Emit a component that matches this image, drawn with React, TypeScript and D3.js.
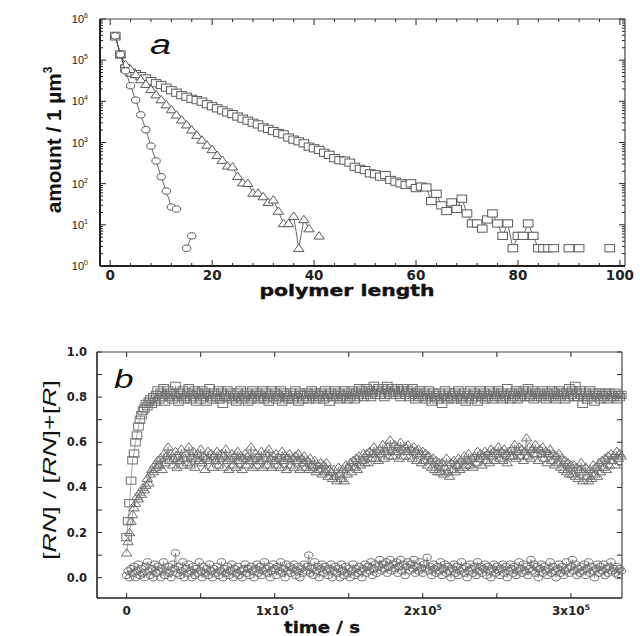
import React from 'react';
import * as d3 from 'd3';

const W = 640;
const H = 636;

// ---- panel a : amount vs polymer length (index + 1 = length, null = no polymer)
const LENGTH_TICKS = [0, 20, 40, 60, 80, 100];
const LENGTH_MINOR = d3.range(0, 101, 4);
const AMOUNT_TICKS = [1, 10, 100, 1e3, 1e4, 1e5, 1e6];

const CIRCLES_A = [3.9e5, 1.38e5, 5.5e4, 2.4e4, 1.07e4, 4700, 2050, 820, 355, 147, 66, 27, 24.3, null, 2.7, 5.4];

const TRIANGLES_A = [
  3.7e5, 1.38e5, 7.9e4, 6.0e4, 4.5e4, 3.4e4, 2.6e4, 1.95e4, 1.45e4, 1.1e4,
  8300, 6300, 4700, 3550, 2700, 2040, 1510, 1150, 870, 676,
  490, 372, 270, 257, 151, 105, 102, 59.4, 59.4, 48.6,
  35.1, 40.5, 21.6, 10.8, 10.8, 16.2, 2.7, 13.5, 8.1, null,
  5.4,
];

const SQUARES_A = [
  3.9e5, 1.38e5, 6.3e4, 5.0e4, 4.6e4, 4.1e4, 3.6e4, 3.1e4, 2.75e4, 2.5e4,
  2.15e4, 1.86e4, 1.62e4, 1.41e4, 1.29e4, 1.15e4, 1.07e4, 9800, 8500, 7600,
  6760, 6030, 5370, 4900, 4270, 3800, 3390, 3020, 2750, 2340,
  2140, 1900, 1700, 1580, 1320, 1170, 1070, 955, 794, 724,
  661, 562, 501, 417, 372, 363, 324, 257, 229, 214,
  178, 170, 148, 162, 123, 112, 102, 93, 102, 78,
  85, 81, 37.8, 56.7, 29.7, 21.6, 35.1, 24.3, 43.2, 18.9,
  10.8, 10.8, 8.1, 13.5, 18.9, 10.8, 5.4, 10.8, 2.7, 5.4,
  5.4, 10.8, 5.4, 2.7, 2.7, 2.7, 2.7, null, null, 2.7,
  null, 2.7, null, null, null, null, null, 2.7,
];

// ---- panel b : [RN]/([RN]+[R]) vs time, one sample every T_STEP seconds
const T_STEP = 1000;
const TIME_TICKS = [0, 1e5, 2e5, 3e5];
const TIME_MINOR = [0, 5e4, 1e5, 1.5e5, 2e5, 2.5e5, 3e5];
const RATIO_TICKS = [0, 0.2, 0.4, 0.6, 0.8, 1.0];

const SQUARES_B = [
  0.18, 0.25, 0.33, 0.43, 0.52, 0.55, 0.60, 0.63, 0.67, 0.70, 0.72, 0.74, 0.75, 0.77, 0.76, 0.78, 0.79, 0.77, 0.80, 0.78,
  0.81, 0.83, 0.79, 0.82, 0.80, 0.84, 0.78, 0.81, 0.83, 0.80,
  0.82, 0.79, 0.81, 0.85, 0.80, 0.78, 0.82, 0.81, 0.83, 0.79,
  0.80, 0.82, 0.84, 0.79, 0.81, 0.80, 0.83, 0.78, 0.82, 0.81,
  0.79, 0.83, 0.80, 0.82, 0.78, 0.81, 0.84, 0.80, 0.79, 0.82,
  0.81, 0.80, 0.83, 0.79, 0.82, 0.77, 0.80, 0.81, 0.83, 0.80,
  0.82, 0.79, 0.81, 0.80, 0.78, 0.82, 0.80, 0.83, 0.79, 0.81,
  0.80, 0.82, 0.78, 0.81, 0.79, 0.83, 0.80, 0.81, 0.82, 0.79,
  0.81, 0.80, 0.83, 0.79, 0.82, 0.80, 0.78, 0.81, 0.83, 0.80,
  0.82, 0.79, 0.81, 0.80, 0.83, 0.78, 0.82, 0.80, 0.81, 0.79,
  0.80, 0.82, 0.79, 0.81, 0.83, 0.80, 0.78, 0.82, 0.81, 0.79,
  0.81, 0.80, 0.82, 0.79, 0.81, 0.83, 0.80, 0.82, 0.79, 0.81,
  0.80, 0.82, 0.81, 0.79, 0.83, 0.80, 0.81, 0.78, 0.82, 0.80,
  0.81, 0.83, 0.80, 0.82, 0.79, 0.81, 0.80, 0.83, 0.81, 0.79,
  0.82, 0.80, 0.83, 0.81, 0.79, 0.82, 0.80, 0.84, 0.81, 0.83,
  0.80, 0.82, 0.84, 0.81, 0.83, 0.80, 0.82, 0.85, 0.81, 0.83,
  0.84, 0.81, 0.82, 0.84, 0.80, 0.83, 0.85, 0.82, 0.81, 0.84,
  0.82, 0.83, 0.81, 0.84, 0.82, 0.80, 0.83, 0.84, 0.81, 0.82,
  0.83, 0.80, 0.82, 0.84, 0.81, 0.79, 0.82, 0.80, 0.83, 0.81,
  0.80, 0.82, 0.79, 0.81, 0.83, 0.80, 0.78, 0.82, 0.80, 0.81,
  0.79, 0.82, 0.80, 0.77, 0.81, 0.83, 0.80, 0.79, 0.82, 0.80,
  0.81, 0.79, 0.82, 0.80, 0.83, 0.81, 0.79, 0.80, 0.82, 0.78,
  0.81, 0.80, 0.83, 0.79, 0.81, 0.82, 0.80, 0.78, 0.81, 0.83,
  0.80, 0.82, 0.79, 0.81, 0.80, 0.83, 0.81, 0.79, 0.82, 0.80,
  0.81, 0.83, 0.80, 0.82, 0.79, 0.81, 0.80, 0.84, 0.81, 0.79,
  0.82, 0.80, 0.81, 0.83, 0.79, 0.82, 0.80, 0.81, 0.83, 0.80,
  0.82, 0.84, 0.80, 0.81, 0.83, 0.79, 0.82, 0.80, 0.81, 0.82,
  0.80, 0.83, 0.81, 0.79, 0.82, 0.80, 0.81, 0.83, 0.80, 0.82,
  0.79, 0.81, 0.83, 0.80, 0.82, 0.81, 0.79, 0.82, 0.80, 0.84,
  0.81, 0.83, 0.80, 0.85, 0.82, 0.80, 0.83, 0.81, 0.77, 0.80,
  0.82, 0.79, 0.81, 0.83, 0.80, 0.82, 0.78, 0.81, 0.80, 0.82,
  0.79, 0.81, 0.80, 0.82, 0.81, 0.79, 0.82, 0.80, 0.81, 0.80,
  0.82, 0.79, 0.81, 0.80, 0.81,
];

const TRIANGLES_B = [
  0.11, 0.16, 0.20, 0.25, 0.28, 0.31, 0.33, 0.36, 0.35, 0.38, 0.37, 0.40, 0.39, 0.41, 0.44, 0.42, 0.46, 0.48, 0.47, 0.50,
  0.49, 0.52, 0.50, 0.53, 0.48, 0.55, 0.51, 0.54, 0.58, 0.52,
  0.55, 0.50, 0.53, 0.56, 0.49, 0.54, 0.52, 0.57, 0.50, 0.53,
  0.55, 0.51, 0.58, 0.50, 0.54, 0.56, 0.49, 0.53, 0.55, 0.52,
  0.57, 0.51, 0.54, 0.48, 0.53, 0.56, 0.52, 0.55, 0.49, 0.54,
  0.52, 0.56, 0.50, 0.53, 0.55, 0.49, 0.54, 0.57, 0.52, 0.48,
  0.53, 0.55, 0.50, 0.54, 0.49, 0.56, 0.52, 0.54, 0.48, 0.53,
  0.55, 0.50, 0.54, 0.52, 0.58, 0.49, 0.53, 0.55, 0.50, 0.54,
  0.52, 0.56, 0.49, 0.53, 0.55, 0.50, 0.57, 0.53, 0.49, 0.54,
  0.52, 0.55, 0.50, 0.53, 0.49, 0.56, 0.52, 0.54, 0.48, 0.53,
  0.55, 0.50, 0.53, 0.49, 0.54, 0.52, 0.55, 0.48, 0.53, 0.51,
  0.54, 0.49, 0.52, 0.48, 0.53, 0.50, 0.49, 0.52, 0.47, 0.50,
  0.48, 0.51, 0.46, 0.50, 0.47, 0.51, 0.45, 0.48, 0.47, 0.44,
  0.48, 0.45, 0.43, 0.49, 0.46, 0.44, 0.48, 0.43, 0.50, 0.46,
  0.49, 0.51, 0.47, 0.52, 0.49, 0.53, 0.48, 0.54, 0.50, 0.52,
  0.55, 0.51, 0.55, 0.51, 0.56, 0.53, 0.55, 0.58, 0.53, 0.56,
  0.52, 0.57, 0.55, 0.59, 0.53, 0.56, 0.58, 0.54, 0.61, 0.57,
  0.54, 0.59, 0.56, 0.58, 0.53, 0.60, 0.57, 0.54, 0.58, 0.56,
  0.59, 0.54, 0.57, 0.53, 0.58, 0.56, 0.52, 0.57, 0.55, 0.51,
  0.56, 0.52, 0.55, 0.50, 0.54, 0.52, 0.49, 0.53, 0.48, 0.52,
  0.47, 0.51, 0.47, 0.51, 0.46, 0.49, 0.53, 0.47, 0.45, 0.51,
  0.48, 0.52, 0.47, 0.50, 0.53, 0.48, 0.52, 0.49, 0.54, 0.50,
  0.52, 0.55, 0.50, 0.53, 0.49, 0.54, 0.51, 0.56, 0.53, 0.55,
  0.50, 0.54, 0.56, 0.52, 0.55, 0.51, 0.57, 0.54, 0.56, 0.52,
  0.55, 0.58, 0.53, 0.56, 0.52, 0.57, 0.55, 0.51, 0.56, 0.54,
  0.57, 0.54, 0.59, 0.53, 0.56, 0.58, 0.54, 0.57, 0.52, 0.56,
  0.62, 0.54, 0.58, 0.53, 0.57, 0.55, 0.59, 0.55, 0.52, 0.57,
  0.55, 0.58, 0.53, 0.56, 0.51, 0.55, 0.57, 0.52, 0.55, 0.50,
  0.54, 0.51, 0.55, 0.49, 0.53, 0.48, 0.52, 0.47, 0.51, 0.46,
  0.50, 0.46, 0.50, 0.45, 0.49, 0.44, 0.48, 0.51, 0.43, 0.47,
  0.49, 0.45, 0.43, 0.48, 0.44, 0.50, 0.46, 0.49, 0.45, 0.51,
  0.47, 0.52, 0.49, 0.53, 0.48, 0.54, 0.50, 0.55, 0.52, 0.54,
  0.50, 0.56, 0.53, 0.55, 0.54,
];

const CIRCLES_B = [
  0.01, 0.03, 0.00, 0.04, 0.02, 0.05, 0.00, 0.03, 0.06, 0.01,
  0.04, 0.02, 0.00, 0.05, 0.07, 0.03, 0.01, 0.04, 0.00, 0.06,
  0.02, 0.05, 0.03, 0.00, 0.04, 0.07, 0.01, 0.03, 0.05, 0.02,
  0.00, 0.06, 0.04, 0.11, 0.02, 0.05, 0.01, 0.03, 0.07, 0.00,
  0.04, 0.02, 0.06, 0.03, 0.00, 0.05, 0.01, 0.04, 0.02, 0.07,
  0.03, 0.00, 0.05, 0.02, 0.04, 0.01, 0.06, 0.03, 0.00, 0.04,
  0.02, 0.05, 0.01, 0.03, 0.07, 0.00, 0.04, 0.02, 0.05, 0.01,
  0.03, 0.06, 0.00, 0.04, 0.02, 0.05, 0.01, 0.03, 0.00, 0.04,
  0.06, 0.02, 0.04, 0.01, 0.05, 0.03, 0.00, 0.04, 0.06, 0.02,
  0.05, 0.01, 0.03, 0.07, 0.04, 0.02, 0.05, 0.00, 0.03, 0.06,
  0.04, 0.01, 0.05, 0.03, 0.07, 0.02, 0.04, 0.00, 0.06, 0.03,
  0.05, 0.02, 0.04, 0.06, 0.01, 0.03, 0.05, 0.00, 0.04, 0.02,
  0.06, 0.03, 0.05, 0.10, 0.02, 0.04, 0.01, 0.07, 0.03, 0.05,
  0.00, 0.04, 0.06, 0.02, 0.05, 0.03, 0.01, 0.04, 0.06, 0.00,
  0.03, 0.05, 0.02, 0.04, 0.00, 0.06, 0.03, 0.01, 0.05, 0.02,
  0.04, 0.00, 0.03, 0.06, 0.01, 0.04, 0.02, 0.05, 0.03, 0.00,
  0.04, 0.06, 0.02, 0.05, 0.03, 0.07, 0.01, 0.04, 0.06, 0.02,
  0.05, 0.08, 0.03, 0.06, 0.04, 0.07, 0.02, 0.05, 0.08, 0.03,
  0.06, 0.04, 0.07, 0.02, 0.05, 0.08, 0.03, 0.06, 0.01, 0.05,
  0.07, 0.03, 0.06, 0.04, 0.08, 0.02, 0.05, 0.03, 0.07, 0.04,
  0.02, 0.06, 0.04, 0.09, 0.03, 0.05, 0.01, 0.06, 0.04, 0.02,
  0.05, 0.03, 0.07, 0.01, 0.04, 0.06, 0.02, 0.05, 0.03, 0.00,
  0.04, 0.06, 0.02, 0.05, 0.01, 0.03, 0.07, 0.04, 0.02, 0.05,
  0.00, 0.03, 0.06, 0.04, 0.02, 0.05, 0.01, 0.07, 0.03, 0.05,
  0.02, 0.04, 0.06, 0.01, 0.05, 0.03, 0.00, 0.04, 0.06, 0.02,
  0.05, 0.03, 0.01, 0.04, 0.06, 0.02, 0.05, 0.00, 0.03, 0.06,
  0.04, 0.02, 0.05, 0.01, 0.03, 0.07, 0.04, 0.02, 0.06, 0.03,
  0.05, 0.01, 0.04, 0.08, 0.03, 0.06, 0.02, 0.05, 0.00, 0.04,
  0.06, 0.02, 0.05, 0.03, 0.01, 0.04, 0.07, 0.02, 0.05, 0.03,
  0.00, 0.04, 0.06, 0.02, 0.05, 0.01, 0.03, 0.07, 0.04, 0.02,
  0.05, 0.08, 0.03, 0.06, 0.01, 0.04, 0.02, 0.05, 0.03, 0.06,
  0.01, 0.04, 0.07, 0.02, 0.05, 0.03, 0.00, 0.04, 0.06, 0.02,
  0.05, 0.03, 0.06, 0.01, 0.04, 0.02, 0.05, 0.07, 0.03, 0.04,
  0.02, 0.05, 0.01, 0.04, 0.03,
];

const BOLD = '"DejaVu Sans", sans-serif';
const ARIAL = '"Liberation Sans", Arial, sans-serif';
const INK = '#222';

const xa = d3.scaleLinear().domain([-2, 101]).range([100, 625]);
const ya = d3.scaleLog().domain([1, 1e6]).range([266, 19]);
const xb = d3.scaleLinear().domain([-20000, 334500]).range([97, 622]);
const yb = d3.scaleLinear().domain([-0.09, 1.0]).range([598, 352]);

type Pt = { x: number; y: number | null };

const toPtsA = (arr: (number | null)[]): Pt[] => arr.map((v, i) => ({ x: i + 1, y: v }));
const toPtsB = (arr: number[]): Pt[] => arr.map((v, i) => ({ x: i * T_STEP, y: v }));

function marker(kind: string, cx: number, cy: number, key: any, fill: string, stroke: string) {
  if (kind === 'square') {
    return <rect key={key} x={cx - 4.8} y={cy - 3.6} width={9.6} height={7.2} fill={fill} stroke={stroke} strokeWidth={1} />;
  }
  if (kind === 'triangle') {
    return <path key={key} d={`M${cx},${cy - 4.2}L${cx + 5.2},${cy + 3.2}L${cx - 5.2},${cy + 3.2}Z`} fill={fill} stroke={stroke} strokeWidth={1} />;
  }
  return <ellipse key={key} cx={cx} cy={cy} rx={4.2} ry={3.2} fill={fill} stroke={stroke} strokeWidth={1} />;
}

function Series({ pts, kind, xs, ys, fill, stroke = '#5a5a5a', lineColor = '#444', lineWidth = 0.8 }: any) {
  const line = d3.line<Pt>()
    .defined(d => d.y != null)
    .x(d => xs(d.x))
    .y(d => ys(d.y as number));
  return (
    <g>
      <path d={line(pts) || ''} fill="none" stroke={lineColor} strokeWidth={lineWidth} />
      {pts.filter((d: Pt) => d.y != null).map((d: Pt, i: number) => marker(kind, xs(d.x), ys(d.y as number), i, fill, stroke))}
    </g>
  );
}

function PanelA() {
  const [x0, x1] = xa.range();
  const [y0, y1] = ya.range();
  const logTicks = ya.ticks();
  const isMajor = (v: number) => Math.abs(Math.log10(v) - Math.round(Math.log10(v))) < 1e-9;
  return (
    <g>
      {LENGTH_MINOR.map(v => {
        const len = v % 20 === 0 ? 6 : 3;
        return (
          <g key={'xa' + v} stroke={INK} strokeWidth={1}>
            <line x1={xa(v)} x2={xa(v)} y1={y0} y2={y0 - len} />
            <line x1={xa(v)} x2={xa(v)} y1={y1} y2={y1 + len} />
          </g>
        );
      })}
      {logTicks.map(v => {
        const len = isMajor(v) ? 6 : 3;
        return (
          <g key={'ya' + v} stroke={INK} strokeWidth={1}>
            <line x1={x0} x2={x0 + len} y1={ya(v)} y2={ya(v)} />
            <line x1={x1} x2={x1 - len} y1={ya(v)} y2={ya(v)} />
          </g>
        );
      })}
      <line x1={x0} x2={x1} y1={y1} y2={y1} stroke="#444" strokeWidth={1} />
      <line x1={x1} x2={x1} y1={y1} y2={y0} stroke="#444" strokeWidth={1.2} />
      <line x1={x0} x2={x1} y1={y0} y2={y0} stroke={INK} strokeWidth={2} />
      <line x1={x0} x2={x0} y1={y1} y2={y0} stroke={INK} strokeWidth={2} />
      {LENGTH_TICKS.map(v => (
        <text key={'la' + v} x={xa(v)} y={y0 + 14} textAnchor="middle" fontFamily={BOLD} fontWeight="bold" fontSize={13.5} fill={INK}>{v}</text>
      ))}
      {AMOUNT_TICKS.map(v => (
        <text key={'lya' + v} x={x0 - 12} y={ya(v) + 4} textAnchor="end" fontFamily={ARIAL} fontSize={11} fill={INK}>
          10<tspan dy={-5} fontSize={7}>{Math.round(Math.log10(v))}</tspan>
        </text>
      ))}
      <Series pts={toPtsA(SQUARES_A)} kind="square" xs={xa} ys={ya} fill="#fff" />
      <Series pts={toPtsA(TRIANGLES_A)} kind="triangle" xs={xa} ys={ya} fill="#fff" />
      <Series pts={toPtsA(CIRCLES_A)} kind="circle" xs={xa} ys={ya} fill="#fff" />
      <text transform="translate(150,54) scale(1.4,1)" fontFamily={ARIAL} fontStyle="italic" fontSize={27} fill="#111">a</text>
      <text x={347} y={296} textAnchor="middle" fontFamily={BOLD} fontWeight="bold" fontSize={15}
        textLength={175} lengthAdjust="spacingAndGlyphs" fill="#111" stroke="#111" strokeWidth={0.4}>polymer length</text>
      <text transform="translate(61,140) rotate(-90)" textAnchor="middle" fontFamily={ARIAL} fontWeight="bold" fontSize={20}
        fill="#111">
        <tspan textLength={140} lengthAdjust="spacingAndGlyphs">amount / 1 µm</tspan>
        <tspan dy={-9} fontSize={12}>3</tspan>
      </text>
    </g>
  );
}

function PanelB() {
  const [x0, x1] = xb.range();
  const [y0, y1] = yb.range();
  const lineProps = { stroke: '#707070', lineColor: '#666', lineWidth: 0.6 };
  return (
    <g>
      {TIME_MINOR.map(v => (
        <g key={'xb' + v} stroke={INK} strokeWidth={1}>
          <line x1={xb(v)} x2={xb(v)} y1={y0} y2={y0 - 5} />
          <line x1={xb(v)} x2={xb(v)} y1={y1} y2={y1 + 5} />
        </g>
      ))}
      {yb.ticks(10).map(v => (
        <g key={'yb' + v} stroke={INK} strokeWidth={1}>
          <line x1={x0} x2={x0 + 5} y1={yb(v)} y2={yb(v)} />
          <line x1={x1} x2={x1 - 5} y1={yb(v)} y2={yb(v)} />
        </g>
      ))}
      <line x1={x0} x2={x1} y1={y1} y2={y1} stroke="#444" strokeWidth={1} />
      <line x1={x1} x2={x1} y1={y1} y2={y0} stroke="#444" strokeWidth={1.2} />
      <line x1={x0} x2={x1} y1={y0} y2={y0} stroke={INK} strokeWidth={1.6} />
      <line x1={x0} x2={x0} y1={y1} y2={y0} stroke={INK} strokeWidth={1.6} />
      {TIME_TICKS.map(v => (
        <text key={'lb' + v} x={xb(v)} y={y0 + 17} textAnchor="middle" fontFamily={BOLD} fontWeight="bold" fontSize={12} fill={INK}>
          {v === 0 ? '0' : <>{Math.round(v / 1e5)}x10<tspan dy={-5} fontSize={7.5}>5</tspan></>}
        </text>
      ))}
      {RATIO_TICKS.map(v => (
        <text key={'lyb' + v} x={x0 - 10} y={yb(v) + 4} textAnchor="end" fontFamily={BOLD} fontWeight="bold" fontSize={11.5} fill={INK}>
          {v.toFixed(1)}
        </text>
      ))}
      <Series pts={toPtsB(CIRCLES_B)} kind="circle" xs={xb} ys={yb} fill="none" {...lineProps} />
      <Series pts={toPtsB(TRIANGLES_B)} kind="triangle" xs={xb} ys={yb} fill="none" {...lineProps} />
      <Series pts={toPtsB(SQUARES_B)} kind="square" xs={xb} ys={yb} fill="none" {...lineProps} />
      <text transform="translate(114,388) scale(1.35,1)" fontFamily={ARIAL} fontStyle="italic" fontSize={26} fill="#111">b</text>
      <text x={322} y={633} textAnchor="middle" fontFamily={BOLD} fontWeight="bold" fontSize={15}
        textLength={76} lengthAdjust="spacingAndGlyphs" fill="#111" stroke="#111" strokeWidth={0.3}>time / s</text>
      <text transform="translate(56,470) rotate(-90)" textAnchor="middle" fontFamily={ARIAL} fontSize={18}
        textLength={180} lengthAdjust="spacingAndGlyphs" fill="#111">
        [<tspan fontStyle="italic">RN</tspan>] / [<tspan fontStyle="italic">RN</tspan>]+[<tspan fontStyle="italic">R</tspan>]
      </text>
    </g>
  );
}

export default function App() {
  return (
    <svg width={W} height={H} viewBox={`0 0 ${W} ${H}`} style={{ position: 'absolute', left: 0, top: 0, background: '#fff' }}>
      <rect width={W} height={H} fill="#fff" />
      <PanelA />
      <PanelB />
    </svg>
  );
}
